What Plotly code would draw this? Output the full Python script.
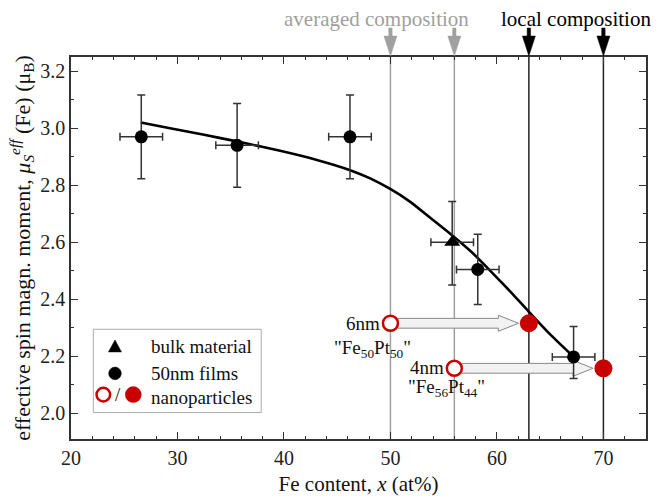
import plotly.graph_objects as go

# ---------------- data ----------------
film_x = [26.6, 35.6, 46.2, 58.2, 67.2]
film_y = [2.97, 2.94, 2.97, 2.505, 2.198]
film_xerr = [2.0, 2.0, 2.0, 2.0, 2.0]
film_yerr_up = [0.147, 0.147, 0.147, 0.123, 0.107]
film_yerr_dn = [0.147, 0.147, 0.147, 0.123, 0.076]

bulk_x = [55.8]
bulk_y = [2.60]
bulk_xerr = [2.0]
bulk_yerr_up = [0.143]
bulk_yerr_dn = [0.150]

fit_x = [26.55, 29.3, 32.5, 35.57, 39.64, 43.09, 46.22, 48.1, 49.98, 51.86, 53.74,
         55.78, 57.62, 59.38, 61.26, 62.98, 65.02, 67.21]
fit_y = [3.020, 3.000, 2.977, 2.954, 2.921, 2.889, 2.853, 2.824, 2.787, 2.742, 2.686,
         2.625, 2.566, 2.500, 2.427, 2.357, 2.276, 2.198]

nano_avg_x = [50, 56]      # averaged composition (open circles)
nano_loc_x = [63, 70]      # local composition (filled circles)
nano_y = [2.316, 2.158]
nano_size = ["6nm", "4nm"]
nano_name = ['"Fe<sub>50</sub>Pt<sub>50</sub>"', '"Fe<sub>56</sub>Pt<sub>44</sub>"']

x_ticks = [20, 30, 40, 50, 60, 70]
y_ticks = [2.0, 2.2, 2.4, 2.6, 2.8, 3.0, 3.2]

# ---------------- style ----------------
FONT = "Liberation Serif"
RED = "#c80000"
GRAY = "#a0a0a0"
ERR = dict(type="data", color="#333333", thickness=1.5, width=4)

fig = go.Figure()

# fitted curve
fig.add_trace(go.Scatter(x=fit_x, y=fit_y, mode="lines",
                         line=dict(color="black", width=2.6, shape="spline", smoothing=0.6),
                         showlegend=False, hoverinfo="skip"))

# 50nm films
fig.add_trace(go.Scatter(
    x=film_x, y=film_y, mode="markers",
    marker=dict(symbol="circle", size=13, color="black"),
    error_x=dict(array=film_xerr, **ERR),
    error_y=dict(array=film_yerr_up, arrayminus=film_yerr_dn, symmetric=False, **ERR),
    showlegend=False))

# bulk
fig.add_trace(go.Scatter(
    x=bulk_x, y=bulk_y, mode="markers",
    marker=dict(symbol="triangle-up", size=14, color="black"),
    error_x=dict(array=bulk_xerr, **ERR),
    error_y=dict(array=bulk_yerr_up, arrayminus=bulk_yerr_dn, symmetric=False, **ERR),
    showlegend=False))

# nanoparticles
fig.add_trace(go.Scatter(
    x=nano_avg_x, y=nano_y, mode="markers",
    marker=dict(symbol="circle", size=15, color="white", line=dict(color=RED, width=2.5)),
    showlegend=False))
fig.add_trace(go.Scatter(
    x=nano_loc_x, y=nano_y, mode="markers",
    marker=dict(symbol="circle", size=18, color=RED),
    showlegend=False))

shapes = []
annotations = []

# vertical composition lines
for xv in nano_avg_x:
    shapes.append(dict(type="line", xref="x", yref="paper", x0=xv, x1=xv, y0=0, y1=1,
                       line=dict(color=GRAY, width=1.5), layer="below"))
for xv in nano_loc_x:
    shapes.append(dict(type="line", xref="x", yref="paper", x0=xv, x1=xv, y0=0, y1=1,
                       line=dict(color="#222222", width=1.5), layer="below"))

# top arrows (pixel-sized, anchored at composition x and plot top)
arrow_path = "M-1.7,29 L1.7,29 L1.7,21 L6.5,21 L0,1 L-6.5,21 L-1.7,21 Z"
for xs, col in ((nano_avg_x, GRAY), (nano_loc_x, "black")):
    for xv in xs:
        shapes.append(dict(type="path", xref="x", yref="paper",
                           xsizemode="pixel", ysizemode="pixel",
                           xanchor=xv, yanchor=1, path=arrow_path,
                           fillcolor=col, line=dict(color=col, width=0.5), layer="above"))

# block arrows between averaged and local compositions
for x0, x1, yv in zip(nano_avg_x, nano_loc_x, nano_y):
    xs = x0 + 0.68
    xt = x1 - 0.98
    xh = xt - 1.88
    hs, hh = 0.0172, 0.0280
    path = (f"M{xs},{yv - hs} L{xh},{yv - hs} L{xh},{yv - hh} L{xt},{yv} "
            f"L{xh},{yv + hh} L{xh},{yv + hs} L{xs},{yv + hs} Z")
    shapes.append(dict(type="path", xref="x", yref="y", path=path,
                       fillcolor="#f2f2f2", line=dict(color="#888888", width=1),
                       layer="below"))

# labels of the nanoparticles
LBL = dict(family=FONT, size=19, color="#111")
annotations.append(dict(x=nano_avg_x[0] - 0.75, y=nano_y[0], xref="x", yref="y",
                        text=nano_size[0], showarrow=False, xanchor="right", yanchor="middle",
                        font=LBL))
annotations.append(dict(x=48.3, y=2.226, xref="x", yref="y",
                        text=nano_name[0], showarrow=False, xanchor="center", yanchor="middle",
                        font=LBL))
annotations.append(dict(x=nano_avg_x[1] - 0.75, y=nano_y[1] + 0.004, xref="x", yref="y",
                        text=nano_size[1], showarrow=False, xanchor="right", yanchor="middle",
                        font=LBL))
annotations.append(dict(x=51.5, y=2.088, xref="x", yref="y",
                        text=nano_name[1], showarrow=False, xanchor="left", yanchor="middle",
                        font=LBL))

# top labels
annotations.append(dict(x=48.67, y=1.10, xref="x", yref="paper", text="averaged composition",
                        showarrow=False, xanchor="center", yanchor="middle",
                        font=dict(family=FONT, size=21, color=GRAY)))
annotations.append(dict(x=67.46, y=1.10, xref="x", yref="paper", text="local composition",
                        showarrow=False, xanchor="center", yanchor="middle",
                        font=dict(family=FONT, size=21, color="black")))

# manual legend
shapes.append(dict(type="rect", xref="paper", yref="paper", x0=0.0388, x1=0.3308,
                   y0=0.0692, y1=0.2872, line=dict(color="#aaaaaa", width=1),
                   fillcolor="white", layer="above"))
def px_circle(xc, yc, r, fill, line_col, lw):
    return dict(type="circle", xref="paper", yref="paper", xsizemode="pixel",
                ysizemode="pixel", xanchor=xc, yanchor=yc, x0=-r, x1=r, y0=-r, y1=r,
                fillcolor=fill, line=dict(color=line_col, width=lw), layer="above")
shapes.append(dict(type="path", xref="paper", yref="paper", xsizemode="pixel",
                   ysizemode="pixel", xanchor=0.0765, yanchor=0.241,
                   path="M-6.5,-5 L6.5,-5 L0,7 Z", fillcolor="black",
                   line=dict(color="black", width=0.5), layer="above"))
shapes.append(px_circle(0.0765, 0.1718, 6.3, "black", "black", 0.5))
shapes.append(px_circle(0.0562, 0.1162, 6.8, "white", RED, 2.5))
shapes.append(px_circle(0.1083, 0.1162, 8, RED, RED, 0.5))
annotations.append(dict(x=0.0817, y=0.1162, xref="paper", yref="paper", text="/",
                        showarrow=False, xanchor="center", yanchor="middle",
                        font=LBL))
for yv, txt in ((0.241, "bulk material"), (0.1718, "50nm films"), (0.1085, "nanoparticles")):
    annotations.append(dict(x=0.1362, y=yv, xref="paper", yref="paper", text=txt,
                            showarrow=False, xanchor="left", yanchor="middle",
                            font=LBL))

axis_common = dict(showline=True, linecolor="#333333", linewidth=1.5, mirror="ticks",
                   ticks="inside", ticklen=7, tickwidth=1.3, tickcolor="#333333",
                   showgrid=False, zeroline=False,
                   tickfont=dict(family=FONT, size=20, color="#222"))

fig.update_layout(
    width=669, height=504,
    margin=dict(l=71, r=23, t=57, b=57),
    paper_bgcolor="white", plot_bgcolor="white",
    font=dict(family=FONT, color="#111"),
    shapes=shapes, annotations=annotations,
    showlegend=False,
    xaxis=dict(range=[20, 74], tickvals=x_ticks, ticktext=[str(v) for v in x_ticks],
               minor=dict(dtick=2, tick0=20, ticks="inside", ticklen=3.5, tickcolor="#333333"),
               title=dict(text="Fe content, <i>x</i> (at%)", font=dict(family=FONT, size=21),
                          standoff=9),
               **axis_common),
    yaxis=dict(range=[1.91, 3.25], tickvals=y_ticks, ticktext=[f"{v:.1f}" for v in y_ticks],
               minor=dict(dtick=0.1, tick0=2.0, ticks="inside", ticklen=3.5, tickcolor="#333333"),
               title=dict(text="effective spin magn. moment, <i>μ</i><sub><i>S</i></sub>"
                               "<sup><i>eff</i></sup> (Fe) (μ<sub>B</sub>)",
                          font=dict(family=FONT, size=22), standoff=4),
               **axis_common),
)

fig.write_html("out.html")
